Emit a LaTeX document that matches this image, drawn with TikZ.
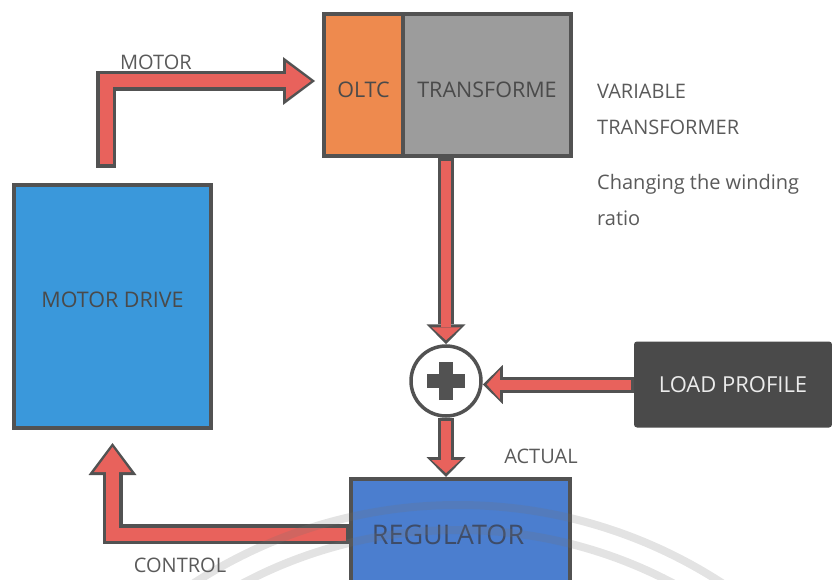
\documentclass[tikz,border=0pt]{standalone}
\usepackage{fontspec}
\setmainfont{Open Sans}
\usetikzlibrary{arrows.meta,calc,positioning}

\definecolor{edgegray}{HTML}{525252}
\definecolor{arrowred}{HTML}{E8625C}
\definecolor{oltcorange}{HTML}{EE8A4E}
\definecolor{xfmrgray}{HTML}{9C9C9C}
\definecolor{driveblue}{HTML}{3A98DB}
\definecolor{regblue}{HTML}{4B7ECF}
\definecolor{loadgray}{HTML}{4A4A4A}
\definecolor{boxtext}{HTML}{4A4A4A}
\definecolor{notetext}{HTML}{5A5A5A}
\definecolor{regtext}{HTML}{3E4C68}

\begin{document}
\begin{tikzpicture}[x=1pt,y=-1pt,
    box/.style={draw=edgegray,line width=4pt,inner sep=0pt,text=boxtext,font=\fontsize{21.5}{24}\selectfont},
    note/.style={text=notetext,inner sep=0pt,font=\fontsize{20}{36}\selectfont},
    sum/.style={circle,draw=edgegray,fill=white,line width=3.5pt,minimum size=70pt,inner sep=0pt,
        path picture={\draw[edgegray,line width=14pt] (path picture bounding box.center) ++(-19pt,0) -- ++(38pt,0);
                      \draw[edgegray,line width=14pt] (path picture bounding box.center) ++(0,-19pt) -- ++(0,38pt);}},
    big arrow/.style={draw=arrowred,line width=13pt,line join=miter,
        -{Triangle[length=25pt,width=37pt,line width=0pt]},shorten >=4pt,shorten <=3.5pt,
        preaction={draw=edgegray,line width=20pt,-{Triangle[length=32pt,width=48pt,line width=0pt]},
                   shorten >=0pt,shorten <=0pt}},
    small arrow/.style={draw=arrowred,line width=10pt,line join=miter,
        -{Triangle[length=13pt,width=29pt,line width=0pt]},shorten >=4pt,shorten <=3pt,
        preaction={draw=edgegray,line width=16pt,-{Triangle[length=20pt,width=39pt,line width=0pt]},
                   shorten >=0pt,shorten <=0pt}}]

\useasboundingbox (0,0) rectangle (832,580);

% blocks
\node[box,fill=driveblue,minimum width=197pt,minimum height=243pt,text height=15.4pt,text depth=13pt] (drive) at (112.5,306.5) {MOTOR DRIVE};
\node[box,fill=oltcorange,minimum width=79pt,minimum height=142pt,text height=25.4pt,text depth=0pt] (oltc) at (363.5,85) {OLTC};
\node[box,fill=xfmrgray,minimum width=168pt,minimum height=142pt,text height=25.4pt,text depth=0pt] (xfmr) at (487,85) {TRANSFORME};
\node[fill=loadgray,rounded corners=3pt,minimum width=198pt,minimum height=86pt,inner sep=0pt,
      text=white!92!black,font=\fontsize{22}{26}\selectfont] (load) at (733,384.5) {LOAD PROFILE};
\node[box,fill=regblue,minimum width=219pt,minimum height=126pt] (reg) at (460.5,542) {};
\node[text=regtext,inner sep=0pt,font=\fontsize{27}{30}\selectfont] (regname) at (448,535) {REGULATOR};
\node[sum] (sum) at (446,381) {};

% arrows
\coordinate (motorout) at ($(drive.north)+(-6.5,-15)$);
\coordinate (motorin) at ($(oltc.west)+(-7,-4)$);
\coordinate (ctrlout) at ($(reg.west)+(0,-8)$);
\coordinate (ctrltip) at ($(drive.south)+(0,13)$);

\draw[big arrow] (motorout) |- (motorin);
\draw[small arrow] (sum.north |- xfmr.south) -- (sum.north);
\draw[small arrow] (load.west) -- (sum.east |- load.west);
\draw[small arrow] (sum.south) -- (sum.south |- reg.north);
\draw[big arrow] (ctrlout) -| (ctrltip);

% labels
\node[note] (motorlbl) at (156,62) {MOTOR};
\node[note] (actuallbl) at (541,456) {ACTUAL};
\node[note] (controllbl) at (180,565) {CONTROL};
\node[note,anchor=west,align=left] (varlbl) at (597,109.5) {VARIABLE\\TRANSFORMER};
\node[note,anchor=west,align=left] (ratiolbl) at (597,200) {Changing the winding\\ratio};

% watermark rings
\begin{scope}
  \clip (0,0) rectangle (832,580);
  \draw[black!55,opacity=0.2,line width=8pt] (458,990) circle[radius=485];
  \draw[black!55,opacity=0.2,line width=8pt] (458,990) circle[radius=460];
\end{scope}

\end{tikzpicture}
\end{document}
